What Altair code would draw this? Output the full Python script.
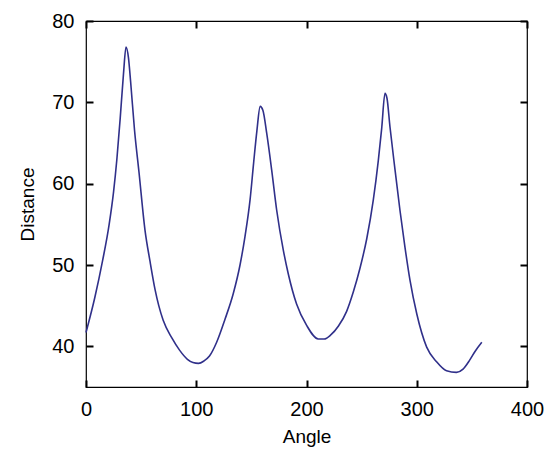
import altair as alt
import pandas as pd

angles = [0, 8, 15, 21, 25, 28, 31, 34, 36.3, 38.5, 40.5, 44, 48, 53.5, 58, 62.6, 66, 70, 78, 85, 92, 97,
          102, 107, 112, 118.5, 126, 133.6, 139.7, 144.2, 148.8, 152, 155, 158, 160.5, 163.9, 168.4,
          173, 179, 183.5, 191, 200, 210.7, 216, 222, 229, 236.4, 242.5, 248.5, 254.6, 260.6,
          265.1, 268.2, 271.2, 273, 275.7, 280.3, 284.8, 289.3, 293.9, 300, 309, 318, 327, 336,
          342, 348, 353, 359]
distances = [41.7, 46.0, 50.5, 55.0, 59.0, 63.0, 68.0, 73.5, 76.8, 75.5, 72.5, 66.6, 61.5, 54.3, 50.5,
             47.0, 45.0, 43.2, 41.0, 39.5, 38.4, 38.0,
             37.9, 38.2, 38.8, 40.5, 43.3, 46.5, 50.0, 53.5, 58.0, 62.5, 66.5, 69.5, 69.0, 66.2, 61.7,
             56.7, 51.8, 48.9, 45.2, 42.6, 40.9, 40.9, 41.4, 42.5, 44.3, 46.7, 49.6, 53.2, 58.0,
             62.8, 66.8, 71.1, 70.5, 67.0, 61.7, 56.7, 52.2, 48.1, 44.0, 39.9, 38.1, 37.0, 36.8,
             37.2, 38.3, 39.4, 40.5]
x_ticks = [0, 100, 200, 300, 400]
y_ticks = [40, 50, 60, 70, 80]

W, H = 441, 366
FONT = "Liberation Sans"
TICK = 7

df = pd.DataFrame({"Angle": angles, "Distance": distances})

xs = alt.Scale(domain=[0, 400], nice=False, zero=False)
ys = alt.Scale(domain=[35, 80], nice=False, zero=False)

common = dict(ticks=True, tickSize=TICK, offset=-TICK, tickColor="#000000", tickWidth=2,
              tickOpacity=1, domain=False, grid=False, labelFlush=False, format="d")

x_bottom = alt.Axis(values=x_ticks, orient="bottom", labelPadding=12, titlePadding=8, **common)
y_left = alt.Axis(values=y_ticks, orient="left", labelPadding=12, titlePadding=14, **common)
x_top = alt.Axis(values=x_ticks, orient="top", labels=False, title=None, **common)
y_right = alt.Axis(values=y_ticks, orient="right", labels=False, title=None, **common)

line = alt.Chart(df).mark_line(color="#30308a", strokeWidth=1.6, interpolate="monotone").encode(
    x=alt.X("Angle:Q", scale=xs, title="Angle", axis=x_bottom),
    y=alt.Y("Distance:Q", scale=ys, title="Distance", axis=y_left),
)

mirror = alt.Chart(df).mark_line(strokeOpacity=0).encode(
    x=alt.X("Angle:Q", scale=xs, axis=x_top),
    y=alt.Y("Distance:Q", scale=ys, axis=y_right),
)

chart = alt.layer(line, mirror).properties(
    width=W, height=H,
    autosize=alt.AutoSizeParams(type="none"),
    padding={"left": 86, "top": 21, "right": 20, "bottom": 66},
    background="white",
).configure_view(stroke="black", strokeWidth=1.2).configure_axis(
    labelFont=FONT, labelFontSize=20, labelColor="black",
    titleFont=FONT, titleFontSize=19, titleFontWeight="normal", titleColor="black",
    ticks=True, tickSize=TICK, tickColor="black", tickWidth=2,
)

chart.save("out.html", embed_options={"renderer": "svg", "actions": False})
